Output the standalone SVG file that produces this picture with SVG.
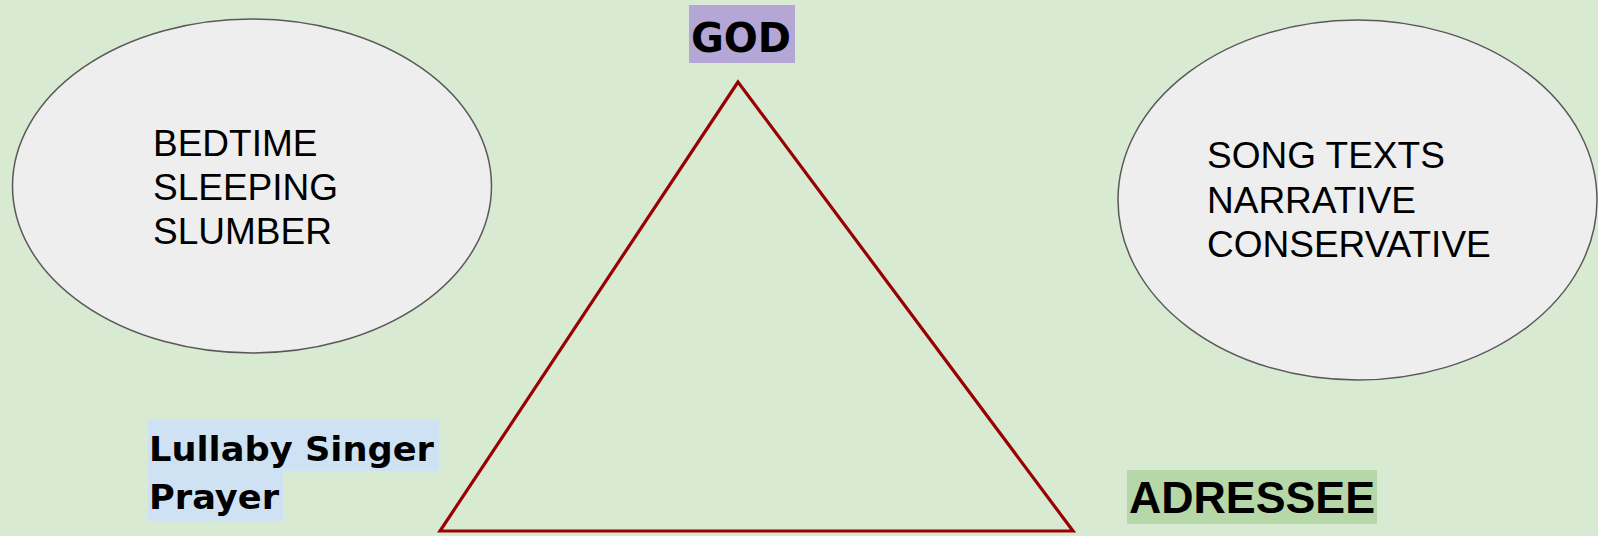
<svg xmlns="http://www.w3.org/2000/svg" width="1598" height="536" viewBox="0 0 1598 536">
<style>
.oval{fill:#eeeeee;stroke:#595959;stroke-width:1.5}
.t{font-family:"Liberation Sans",Arial,sans-serif;font-size:37px;fill:#000}
.comic{font-family:"Comic Sans MS","DejaVu Sans",sans-serif;font-weight:bold;fill:#000}
.tri{fill:none;stroke:#990000;stroke-width:3.2;stroke-linejoin:miter}
</style>
<rect width="1598" height="536" fill="#d9ead3"/>
<g id="connectors">
<polygon class="tri" points="738,82 440,531 1073,531"/>
</g>
<g id="god">
<rect x="689" y="5" width="106" height="58" fill="#b4a7d6"/>
<text class="comic" x="691" y="52" font-size="40" textLength="100" lengthAdjust="spacingAndGlyphs">GOD</text>
</g>
<g id="left-oval">
<ellipse class="oval" cx="252" cy="186" rx="239.5" ry="167"/>
<text class="t" x="153" y="156">BEDTIME</text>
<text class="t" x="153" y="200">SLEEPING</text>
<text class="t" x="153" y="244">SLUMBER</text>
</g>
<g id="right-oval">
<ellipse class="oval" cx="1357.5" cy="200" rx="239.5" ry="180"/>
<text class="t" x="1207" y="168">SONG TEXTS</text>
<text class="t" x="1207" y="213">NARRATIVE</text>
<text class="t" x="1207" y="257">CONSERVATIVE</text>
</g>
<g id="singer">
<rect x="148" y="419" width="291" height="52" fill="#cfe2f3"/>
<rect x="148" y="471" width="135" height="50" fill="#cfe2f3"/>
<text class="comic" x="149" y="461" font-size="34" textLength="285" lengthAdjust="spacingAndGlyphs">Lullaby Singer</text>
<text class="comic" x="149" y="509" font-size="34" textLength="130" lengthAdjust="spacingAndGlyphs">Prayer</text>
</g>
<g id="adressee">
<rect x="1127" y="470" width="250" height="54" fill="#b6d7a8"/>
<text x="1129" y="513" font-family="Liberation Sans,Arial,sans-serif" font-weight="bold" font-size="44" textLength="246" lengthAdjust="spacingAndGlyphs">ADRESSEE</text>
</g>
</svg>
